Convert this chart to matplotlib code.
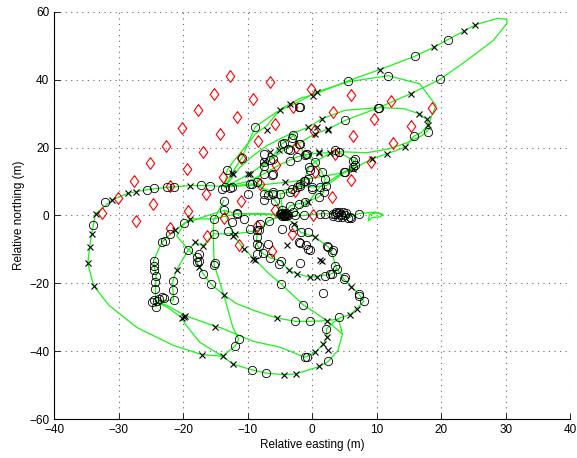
import matplotlib
matplotlib.use("Agg")
import matplotlib.pyplot as plt
import numpy as np

plt.rcParams['font.family'] = ['Liberation Sans', 'DejaVu Sans']

# vehicle track (m), one list per pass out from the centre and back
track_passes = [
    # long excursion to the north-east
    [(-13.5, 8.5), (-13.2, 13.3), (-12.2, 16), (-10.9, 19), (-8.8, 24), (-7, 26.5), (-5, 31.2),
     (-3.4, 32.9), (-1.9, 34.5), (0.2, 35.6), (5.6, 39.7), (10.5, 43), (15.9, 46.9), (18.9, 49.6),
     (21, 51.8), (23.6, 54.4), (25.3, 56.2), (28.7, 58.1), (30.2, 57.8), (30.2, 56.6), (28.1, 51.6),
     (24, 45.7), (19.8, 40.1), (15.3, 35.9), (10.2, 31.7), (5.1, 28), (2.5, 25.5), (0.5, 24.1),
     (-1.9, 21.5), (-4.4, 19.3), (-6.5, 16.4), (-9.7, 12.3), (-12.4, 9.5), (-13.5, 8.5)],
    # upper eastern loop
    [(-13.5, 8.5), (-12.4, 12.6), (-10.9, 17), (-8.8, 26.2), (-5.5, 30.5), (-2, 33.6), (0.7, 36.4),
     (5.6, 39.4), (11.8, 41.2), (16.7, 38.8), (19.2, 32.4), (18, 26.8), (17, 24.5), (15.8, 23.4),
     (14.4, 20.1), (11.6, 18.2), (9.3, 16.7), (6.3, 13.7), (5.1, 12.7), (1.5, 11.5), (-3, 10),
     (-8, 9), (-13.5, 8.5)],
    # middle eastern loop
    [(-13.5, 8.5), (-11.2, 14.2), (-9.1, 17.7), (-7, 20.6), (-3.9, 23.6), (-0.6, 26), (1.5, 28.5),
     (5.1, 31), (10.3, 31.8), (14.2, 31.5), (16.6, 30), (17.8, 28.3), (18.2, 25.5), (17, 23.5),
     (14.8, 21.5), (11.6, 19.5), (8.5, 18.5), (4.1, 18.8), (2.7, 18.5), (1.1, 18.4), (-0.8, 18),
     (-2.4, 17.2), (-5, 15), (-7.5, 12.3), (-10, 10), (-13.5, 8.5)],
    # big western loop, round the bottom and back
    [(-13.5, 8.5), (-15.9, 8.8), (-18.9, 8.8), (-22.5, 8.3), (-25.6, 7.6), (-28.5, 6.6), (-31, 4.6),
     (-33.6, 0.5), (-34.2, -5.4), (-34.5, -9.3), (-34.8, -14.1), (-33.9, -20.7), (-31.5, -26.5),
     (-27.2, -33), (-21.5, -38.3), (-17.1, -41), (-13.9, -41.5), (-12.3, -43.8), (-9.3, -45.5),
     (-7.1, -46.5), (-4.4, -46.9), (-2.5, -46.7), (1.1, -44.5), (2.5, -43), (4, -39.8), (4.7, -35),
     (4.1, -30.5), (2.3, -31), (-0.4, -31.2), (-2.6, -31.2), (-5.5, -30.2), (-9, -28), (-11.7, -26),
     (-13.7, -23.4), (-15.7, -20.2), (-16.9, -17.2), (-17.9, -13.8), (-17.9, -12.3), (-19.2, -10.1),
     (-21, -6), (-19.8, -2.3), (-17, -0.5), (-13.6, 1.5), (-11.7, 0.5), (-8, 0.3), (-4.4, 0.2)],
    # south-eastern loop
    [(-4.4, 0.2), (-2.8, -2.5), (-1.8, -4.9), (0.5, -6.4), (2.5, -9.3), (3, -10.8), (3.8, -15.7),
     (4.9, -18.7), (6.1, -21), (7.2, -23.1), (8, -25.3), (6.9, -27.5), (5.9, -29.2), (4.1, -30.3),
     (2.2, -33.4), (2.3, -35.9), (1.7, -37.9), (0.5, -40.3), (-1.1, -41.8), (-5, -38.8),
     (-9.1, -37.1), (-14.3, -33), (-15, -32.7), (-19.7, -29.5), (-22.5, -26.5), (-24.3, -25.3)],
    # south-western legs
    [(-24.3, -25.3), (-24.2, -26.9), (-24.3, -21.6), (-24.2, -17.7), (-24.5, -14.8), (-24.6, -13.3),
     (-23.3, -7.9), (-22, -5.4), (-19.8, -2.3), (-18.9, -1), (-15.3, -1), (-11.7, 0.5), (-8, 0.6),
     (-4.4, 0.2)],
    [(-24.3, -25.3), (-21.5, -24.9), (-21.6, -21.9), (-21.6, -19.2), (-21, -16), (-19.2, -10.1),
     (-18.1, -7.9), (-16.9, -8.9), (-15.3, -5.4), (-11.9, -5.4), (-8.3, -4.4), (-6.7, -1.5),
     (-4.4, 0.2)],
    [(-13.9, -41.5), (-17.4, -37.4), (-19.7, -32), (-20.2, -30.2), (-22.5, -27), (-24.3, -25.3)],
    # inner southern loop
    [(-4.4, 0.2), (-6.7, -1.5), (-8.3, -4.4), (-8.6, -6.4), (-8.6, -8.4), (-7.7, -11.1),
     (-6.5, -12.5), (-4.9, -13.3), (-3.6, -16.2), (-2.3, -17.2), (-0.3, -18.2), (0.7, -18),
     (3.1, -17.2), (3.8, -15.7)],
    [(-13.6, 1.5), (-12.2, -5.9), (-10.6, -9.8), (-8.8, -13.1), (-6.8, -17), (-4.8, -20.2),
     (-1.4, -26.3), (2.3, -31), (4.7, -35)],
    [(-13.7, 4.4), (-15.3, -1.5), (-15.3, -8), (-15.2, -14.5), (-13.7, -23.4), (-12.3, -33),
     (-11.4, -36.4), (-11.9, -38.4), (-13.9, -41.5)],
    # loops just north of the centre
    [(-4.4, 0.2), (-5.7, 4.4), (-6.8, 5.9), (-8.6, 9.8), (-7.5, 14.7), (-6.5, 16.4), (-4.7, 21.1),
     (-2.9, 23.6), (-2.1, 21.1), (-1.1, 17.7), (0.5, 15.9), (1.5, 12.8), (2, 10.8), (1.8, 6.9),
     (1, 5.4), (-1.1, 3.9), (-3.4, 2.9), (-4.4, 0.2)],
    [(-4.4, 0.2), (-5, 6.4), (-3.4, 6.9), (-2.4, 8.3), (-1.3, 10.3), (-0.5, 14.2), (0.5, 15.9),
     (3.6, 19.2), (4.1, 18.7), (6.4, 16.2), (6.4, 14.2), (4.9, 12.8), (1.2, 8.4), (-0.6, 3.9),
     (-2.8, 1), (-4.4, 0.2)],
    [(-13.5, 8.5), (-9.4, 9.3), (-6, 6.9), (-3.2, 7.9), (-1.9, 8.6), (0, 8.4), (2.2, 8.8),
     (5.1, 12.8), (6.7, 15), (6.7, 16.7)],
    # final run east and stop
    [(-4.4, 0.2), (-2.6, 0), (-1.3, 0), (1.2, 0.5), (3.3, 0.5), (4.5, 0.5), (5.9, -0.5), (7.3, 0.6),
     (8.5, 0.8), (9.8, 1), (10.9, 0.4), (10.6, -0.4), (9.3, -0.6), (8.7, -1.6), (8.9, 0.3),
     (10, 0.8), (11, 0.2)],
]

# estimated landmark positions (m)
landmark_x = [-12.7, -15.2, -17.7, -20.2, -22.6, -25.1, -27.6, -30.1, -32.6,
              -6.5, -9.1, -11.6, -14.3, -16.9, -19.4, -22.0, -24.7, -27.3,
              -0.2, -3.0, -5.7, -8.4, -11.1, -13.8, -16.5, -19.2, -22.0,
              6.0, 3.2, 0.3, -2.5, -5.6, -8.1, -11.1, -13.6, -16.3,
              12.2, 9.6, 6.3, 3.6, 0.5, -2.6, -5.8, -8.5, -11.4,
              18.6, 15.4, 12.5, 9.2, 6.0, 3.0, 0.1, -3.2, -6.3]
landmark_y = [41.0, 35.7, 31.0, 25.7, 20.6, 15.6, 10.3, 5.3, 0.6,
              39.2, 34.2, 28.9, 23.9, 18.6, 13.6, 8.6, 3.5, -1.5,
              37.4, 32.0, 27.0, 22.0, 16.8, 11.3, 6.3, 1.2, -3.7,
              35.6, 30.5, 25.0, 20.2, 15.0, 9.4, 4.3, -0.8, -5.9,
              33.6, 28.5, 23.3, 18.0, 12.8, 7.2, 1.5, -3.2, -8.6,
              31.7, 26.5, 21.4, 15.7, 10.5, 5.4, 0.0, -5.4, -10.5]

# poses where the filter was updated (circles)
update_pts = [
    (21.0, 51.8), (15.9, 46.9), (11.8, 41.2), (5.6, 39.7), (19.8, 40.1), (10.2, 31.7), (5.1, 28),
    (18, 24.6), (15.8, 23.4), (6.7, 16.7), (6.7, 15.0), (5.1, 12.7), (4.1, 18.8), (-0.8, 18),
    (-1.9, 21.1), (-2, 32), (-8.8, 26.2), (-1.9, 31.9), (10.3, 31.8),
    (-34, -2.7), (-32.1, 3.9), (-25.6, 7.6), (-24.6, 8.1), (-22.5, 8.3), (-21.4, 8.3), (-17.2, 9),
    (-15.9, 8.8), (-14, 7.8), (-12.4, 8.3), (-13.5, 8.4), (-12.7, 8.2), (-13.7, 4.4), (-13.6, 1.5),
    (-11.7, 0.5), (-13.2, 13.3), (-10.9, 17),
    (-4.4, 21.3), (-2.9, 23.6), (-2.1, 21.1), (-3.2, 22.9), (-3.5, 19.4), (-0.9, 18), (-7.5, 18.2),
    (-6.5, 16.4), (-7.5, 14.7), (-6.1, 12.3), (-8.6, 9.8), (-9.6, 9.3), (-7.5, 6.4), (-6.1, 6.4),
    (-5, 6.4), (-3.4, 6.9), (-2.4, 8.3), (-1.3, 10.3), (-0.5, 14.2), (0.5, 15.9), (-7.5, 15.7),
    (-6, 16.7), (-3.4, 16.2), (-7.5, 12.3), (-6.2, 11.8), (-6, 6.9), (-3.2, 7.9), (-1.9, 8.6),
    (-0.6, 10.8), (-0.1, 7.9), (1.2, 8.4), (-0.3, 13.5), (2.2, 8.8), (-8.1, -2.5), (-7.5, 4.6),
    (-5, 0.5), (-3, 1),
    (-4.7, 21.1), (-3.7, 19.7), (-2.4, 17.2), (-1.1, 17.7), (1.5, 12.8), (2, 10.8), (1.8, 6.9),
    (1, 5.4), (-1.1, 3.9), (-2.1, 3.4), (-3.4, 2.9), (-4.7, 1.5), (-5.7, 4.4), (-6.8, 5.9),
    (3.6, 19.2), (4.1, 18.7), (6.4, 16.2), (6.4, 14.2), (4.9, 12.8), (-1.1, 10.3), (-1.9, 9.3),
    (0, 8.4), (-9.4, 9.3), (-9.9, 6.4), (-11.7, 0.7), (-8.6, -4.4), (-8.3, -8.9), (-6.8, -8.4),
    (-3.7, 0), (-2.6, 0), (-1.3, 0), (1.2, 0.5), (2, 0.5), (3.3, 0.5), (5.9, -0.5), (7.2, 0.5),
    (-24.6, -13.3), (-24.5, -14.8), (-24.2, -17.7), (-24.3, -21.6), (-23.3, -23.9), (-24.2, -26.9),
    (-21.6, -19.2), (-21.6, -21.9), (-21.5, -24.9), (-23.3, -7.9), (-22.8, -7.4), (-22, -5.4),
    (-19.8, -2.3), (-19.2, -10.1), (-17.9, -12.3), (-17.9, -13.8), (-16.9, -17.2), (-15.7, -20.2),
    (-15.3, -5.4), (-15.2, -14.5), (-11.4, -36.4), (-11.9, -38.4), (-9.3, -45.5), (-7.1, -46.5),
    (-4.8, -20.2), (-2.6, -31.2), (-0.4, -31.2), (-1.4, -26.3), (-4.9, -13.3), (-6.5, -12.5),
    (-7.7, -11.1), (-8.6, -8.4), (-8.6, -6.4), (-8.3, -4.4), (-6.7, -1.5), (-2.9, -3.4),
    (-1.8, -4.9), (-0.9, -8.6), (-0.8, -41.6), (-1.1, -41.8), (-15, -14.1), (-15.3, -1),
    (-17.6, -11.3), (-17.6, -13.3), (-24.5, -24.8), (-24, -25.3), (-23.8, -24.5),
    (-24.6, -16), (-24.3, -19.5), (-22.9, -24.3), (-24.8, -25.6),
    (-0.6, -4.9), (2.5, -9.3), (3, -10.8), (3.8, -15.7), (3.1, -17.2), (4.9, -18.7), (7.2, -23.1),
    (8, -25.3), (4.1, -30), (1.7, -22.9), (-0.4, -10.3), (2.5, -43), (2.2, -33.4), (-1.9, -8.2),
    (-4.7, -3.9), (-2.1, -7.9), (-0.6, -9.8), (2.3, -8.9), (3.3, -10.3), (3.6, -14.8), (2.8, -17.2),
    (2, -17.7), (-8.6, -11.3), (-5.2, -14.3), (-1.9, -14.1), (5.1, -18.2), (7.3, -23.6),
    (-12.4, -2), (-10.5, -1), (-9.6, -4), (-13.1, -4.5),
    # clusters where the vehicle sat still
    (-4.8, 0.3), (-4.5, 0.1), (-4.3, 0.5), (-4.1, -0.1), (-3.9, 0.3), (-4.6, 0.6), (-4.2, 0.2),
    (-4.4, -0.2), (-4.0, 0.6), (-4.7, -0.1),
    (3.3, -0.2), (3.6, 0.3), (3.9, 0.7), (4.2, 1.0), (4.5, 0.4), (4.8, 0.9), (5.1, 0.2), (4.0, -0.3),
    (4.6, -0.4), (3.7, 1.1), (5.3, 0.8), (4.4, 0.1), (5.6, -0.6), (6.1, -0.7),
]

# dead-reckoning poses (crosses)
predict_pts = [
    (25.3, 56.2), (23.6, 54.4), (18.9, 49.6), (10.5, 43), (15.3, 35.9), (16.6, 30), (17.8, 28.5),
    (18, 26.8), (14.4, 20.1), (11.6, 18.2), (9.3, 16.7), (6.3, 13.7), (1.5, 28.5), (2.5, 25.5),
    (0.5, 24.1), (-0.6, 26), (1.1, 18.4), (2.7, 18.5), (0.7, 36.4), (0.2, 35.1), (-3.4, 32.9),
    (-5, 31.2), (-7, 25.1), (0.7, 26.1), (2.5, 25.3), (1, 18.7), (-6.5, 18.7), (-7.5, 16.2),
    (-9.9, 12.3), (-12.2, 12.3), (-4.2, 9.8), (-0.6, 3.9), (-18.9, 8.8), (-12.4, 12.6), (-9.7, 12.3),
    (-5.1, 19.3), (-28.5, 6.6), (-27.3, 6.9), (-31, 4.6), (-33.6, 0.5),
    (-34.2, -5.4), (-34.5, -9.3), (-34.8, -14.1), (-33.9, -20.7), (-19.8, -30), (-15, -33),
    (-17.1, -41), (-13.9, -41.5), (-4.4, -46.9), (-2.5, -46.7), (-12.3, -43.8), (-13.7, -23.4),
    (-21, -16), (-18.1, -7.9), (-11.9, -5.4), (-9.1, -12.8), (-5.5, -30.2), (-3.6, -16.2),
    (-2.3, -17.2), (-12.2, -5.9), (-10.6, -9.8), (-8.8, -13.1), (2.3, -31), (-3.9, -8.8),
    (-0.3, -18.2), (0.7, -18), (1.2, -13.1), (2.5, -39.6), (1.1, -44.5), (-2.8, -2.5), (0.5, -6.4),
    (1.5, -13.3), (6.1, -21), (6.9, -27.5), (5.9, -29.2), (2.3, -35.9), (1.7, -37.9), (0.5, -40.3),
    (-20.2, -30.2), (-19.7, -29.5), (-16.9, -8.9), (-17.6, -15.2), (-18.9, -1), (-21.2, -4.4),
]

# narrow diamond outline for the landmarks
diamond = [(0, 1), (0.72, 0), (0, -1), (-0.72, 0), (0, 1)]

fig = plt.figure(figsize=(5.77, 4.58), dpi=100)
ax = fig.add_axes([0.094, 0.085, 0.894, 0.889])

for seg in track_passes:
    seg = np.array(seg)
    ax.plot(seg[:, 0], seg[:, 1], color=(0.1, 0.95, 0.1), lw=0.9, zorder=2)

ax.plot(landmark_x, landmark_y, marker=diamond, ls='none', mfc='none', mec='red',
        ms=8.5, mew=0.8, zorder=3)

up = np.array(update_pts)
ax.plot(up[:, 0], up[:, 1], 'o', ls='none', mfc='none', mec='black', ms=6, mew=0.6, zorder=4)
pr = np.array(predict_pts)
ax.plot(pr[:, 0], pr[:, 1], 'x', ls='none', color='black', ms=4.2, mew=0.8, zorder=4)

ax.set_xlim(-40, 40)
ax.set_ylim(-60, 60)
ax.set_xticks(np.arange(-40, 41, 10))
ax.set_yticks(np.arange(-60, 61, 20))
ax.grid(True, ls=(0, (1, 4)), color='#666666', lw=0.8)
ax.set_axisbelow(True)
for side in ['top', 'right']:
    ax.spines[side].set_visible(False)
ax.tick_params(direction='in', length=4, labelsize=8.5, width=0.6)
ax.set_xlabel('Relative easting (m)', fontsize=8.5, labelpad=2)
ax.set_ylabel('Relative northing (m)', fontsize=8.5, labelpad=3)

fig.savefig('out.png', dpi=100)
